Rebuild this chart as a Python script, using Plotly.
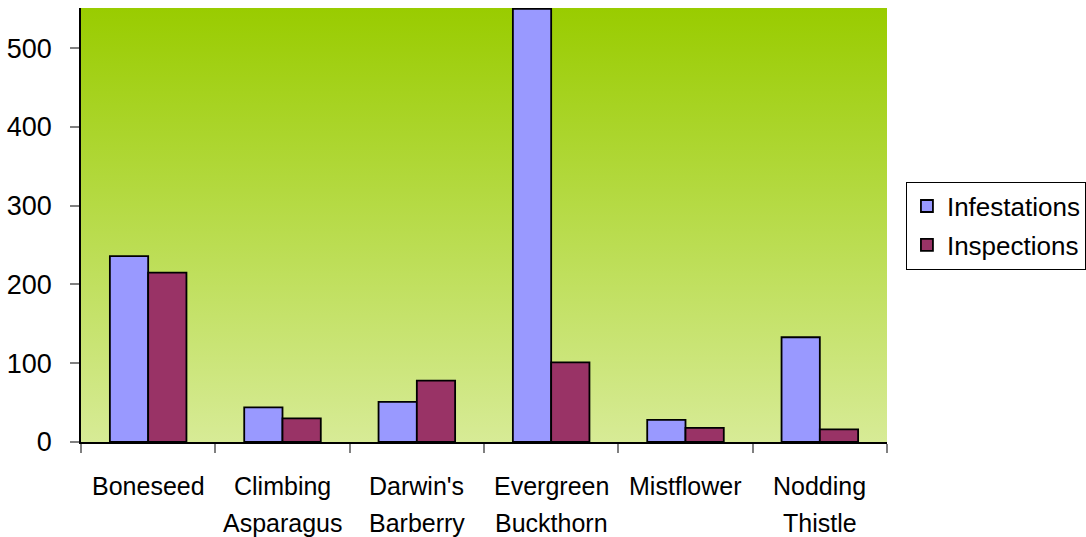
import base64
import plotly.graph_objects as go

# Weed programme summary
categories = ["Boneseed", "Climbing\nAsparagus", "Darwin's\nBarberry",
              "Evergreen\nBuckthorn", "Mistflower", "Nodding\nThistle"]
infestations = [236, 44, 51, 550, 28, 133]
inspections = [215, 30, 78, 101, 18, 16]
y_ticks = [0, 100, 200, 300, 400, 500]

FONT = "Liberation Sans, Arial, sans-serif"
cat_keys = [c.replace("\n", " ") for c in categories]

fig = go.Figure()
fig.add_trace(go.Bar(
    name="Infestations", x=cat_keys, y=infestations,
    marker=dict(color="#9999FF", line=dict(color="#000000", width=1.8)),
    legendgroup="a",
))
fig.add_trace(go.Bar(
    name="Inspections", x=cat_keys, y=inspections,
    marker=dict(color="#993366", line=dict(color="#000000", width=1.8)),
    legendgroup="b",
))

# vertical green gradient behind the plotting area
svg = ('<svg xmlns="http://www.w3.org/2000/svg" width="100" height="100" '
       'preserveAspectRatio="none"><defs><linearGradient id="g" x1="0" y1="0" '
       'x2="0" y2="1"><stop offset="0" stop-color="#99CC00"/>'
       '<stop offset="1" stop-color="#D7EB96"/></linearGradient></defs>'
       '<rect width="100" height="100" fill="url(#g)"/></svg>')
bg_src = "data:image/svg+xml;base64," + base64.b64encode(svg.encode()).decode()
fig.add_layout_image(dict(
    source=bg_src, xref="x domain", yref="y domain", x=0, y=1,
    sizex=1, sizey=1, xanchor="left", yanchor="top",
    sizing="stretch", layer="below",
))

# two-line category labels under the axis
for key, label in zip(cat_keys, categories):
    for k, line in enumerate(label.split("\n")):
        fig.add_annotation(
            x=key, y=0, xref="x", yref="y", text=line, showarrow=False,
            yanchor="middle", yshift=-44 - 37 * k,
            font=dict(family=FONT, size=25, color="#000000"),
        )

fig.update_layout(
    width=1086, height=537,
    margin=dict(l=81, r=199, t=8, b=95, autoexpand=False),
    paper_bgcolor="#FFFFFF", plot_bgcolor="rgba(0,0,0,0)",
    barmode="group", bargap=0.43, bargroupgap=0,
    font=dict(family=FONT, color="#000000"),
    legend=dict(
        x=1.0235, y=0.60, xanchor="left", yanchor="top",
        bgcolor="#FFFFFF", bordercolor="#000000", borderwidth=1,
        font=dict(family=FONT, size=26, color="#000000"),
        traceorder="grouped", tracegroupgap=2,
    ),
    showlegend=True,
)
fig.update_xaxes(
    type="category", tickson="boundaries", showticklabels=False,
    ticks="outside", ticklen=9, tickcolor="#808080", tickwidth=1.5,
    showline=True, linecolor="#000000", linewidth=1.5,
    showgrid=False, zeroline=False,
)
fig.update_yaxes(
    range=[0, 551], tickvals=y_ticks, ticktext=[str(v) for v in y_ticks],
    ticks="outside", ticklen=9, tickcolor="#808080", tickwidth=1.5,
    ticklabelstandoff=13,
    tickfont=dict(family=FONT, size=27, color="#000000"),
    showline=True, linecolor="#000000", linewidth=1.5,
    showgrid=False, zeroline=False,
)

fig.write_html("out.html")
